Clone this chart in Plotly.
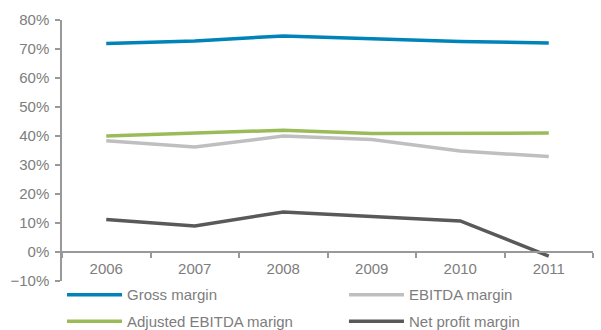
import plotly.graph_objects as go

years = ["2006", "2007", "2008", "2009", "2010", "2011"]
gross_margin = [71.9, 72.8, 74.5, 73.6, 72.6, 72.1]
ebitda_margin = [38.4, 36.2, 40.0, 38.8, 34.8, 32.9]
adj_ebitda_margin = [40.0, 41.0, 42.0, 40.9, 40.9, 41.0]
net_profit_margin = [11.2, 9.0, 13.8, 12.1, 10.7, -1.4]

series = [
    ("Gross margin", gross_margin, "#0083B8", "legend"),
    ("Adjusted EBITDA marign", adj_ebitda_margin, "#9BBB59", "legend"),
    ("EBITDA margin", ebitda_margin, "#BFBFBF", "legend2"),
    ("Net profit margin", net_profit_margin, "#595959", "legend2"),
]

fig = go.Figure()
for name, vals, col, lg in series:
    fig.add_trace(go.Scatter(x=years, y=vals, name=name, mode="lines", legend=lg,
                             legendgroup=name,
                             line=dict(color=col, width=3.5)))

font = dict(family="Liberation Sans, Arial, sans-serif", size=15, color="#7d7d7d")
leg_common = dict(orientation="v", xanchor="left", y=0.01, yanchor="top",
                  itemwidth=55, font=font, tracegroupgap=4, traceorder="grouped",
                  bgcolor="rgba(0,0,0,0)")
fig.update_layout(
    width=601, height=330,
    margin=dict(l=62, r=8, t=20, b=49, autoexpand=False),
    plot_bgcolor="white", paper_bgcolor="white",
    font=font,
    showlegend=True,
    legend=dict(x=0.0, **leg_common),
    legend2=dict(x=0.531, **leg_common),
    xaxis=dict(type="category", range=[-0.5, 5.5], anchor="free", position=1/9,
               showline=True, linecolor="#999999", linewidth=1.5,
               ticks="outside", tickson="boundaries", ticklen=5, tickcolor="#999999",
               tickwidth=1.5, showgrid=False, zeroline=False, tickfont=font,
               ticklabelstandoff=3),
    yaxis=dict(range=[-10, 80], dtick=10, ticksuffix="%",
               showline=True, linecolor="#999999", linewidth=1.5,
               ticks="outside", ticklen=5, tickcolor="#999999", tickwidth=1.5,
               showgrid=False, zeroline=False, tickfont=font,
               ticklabelstandoff=3),
)
fig.write_html("out.html")
